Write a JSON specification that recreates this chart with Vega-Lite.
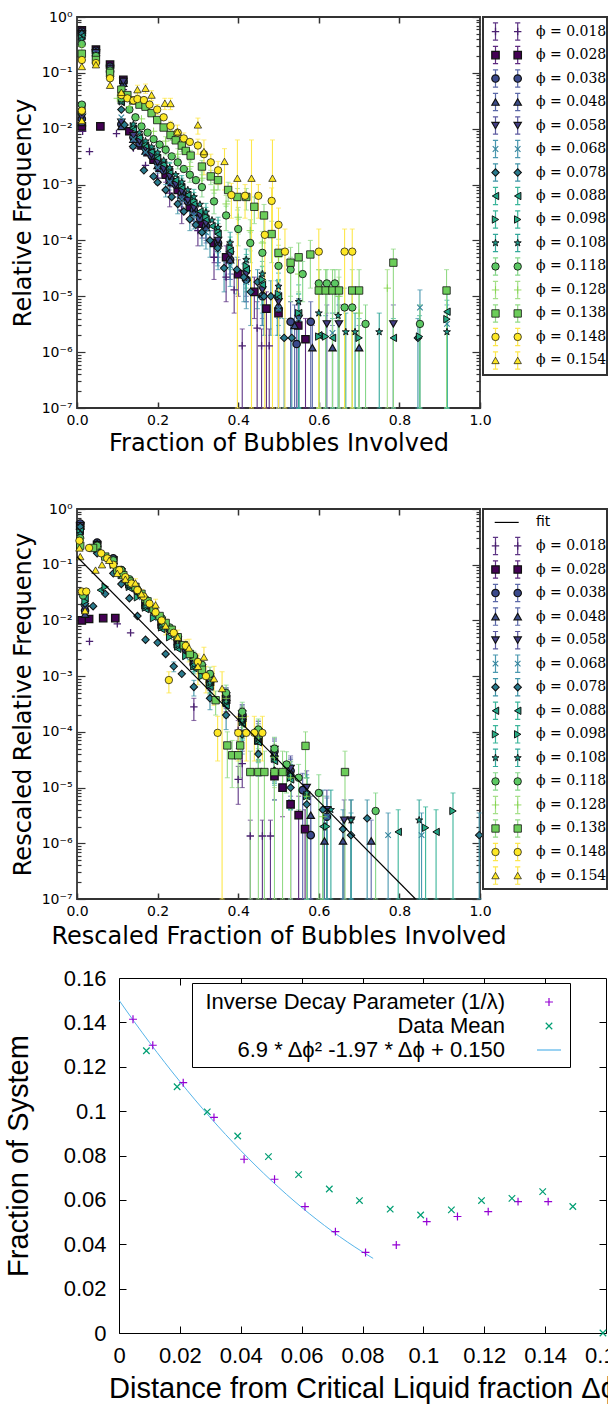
{
"$schema": "https://vega.github.io/schema/vega-lite/v6.json",
"background": "white",
"padding": {"left": 3, "top": 9, "right": 0, "bottom": 0},
"spacing": 17,
"resolve": {"scale": {"color": "independent", "shape": "independent", "fill": "independent", "stroke": "independent", "strokeWidth": "independent"}},
"config": {"view": {"stroke": null}, "axis": {"grid": false}, "font": "DejaVu Sans"},
"datasets": {
"leg1": [{"s":"0.018","lab":"ϕ = 0.018"},{"s":"0.028","lab":"ϕ = 0.028"},{"s":"0.038","lab":"ϕ = 0.038"},{"s":"0.048","lab":"ϕ = 0.048"},{"s":"0.058","lab":"ϕ = 0.058"},{"s":"0.068","lab":"ϕ = 0.068"},{"s":"0.078","lab":"ϕ = 0.078"},{"s":"0.088","lab":"ϕ = 0.088"},{"s":"0.098","lab":"ϕ = 0.098"},{"s":"0.108","lab":"ϕ = 0.108"},{"s":"0.118","lab":"ϕ = 0.118"},{"s":"0.128","lab":"ϕ = 0.128"},{"s":"0.138","lab":"ϕ = 0.138"},{"s":"0.148","lab":"ϕ = 0.148"},{"s":"0.154","lab":"ϕ = 0.154"}],
"leg2": [{"s":"fit","lab":"fit"},{"s":"0.018","lab":"ϕ = 0.018"},{"s":"0.028","lab":"ϕ = 0.028"},{"s":"0.038","lab":"ϕ = 0.038"},{"s":"0.048","lab":"ϕ = 0.048"},{"s":"0.058","lab":"ϕ = 0.058"},{"s":"0.068","lab":"ϕ = 0.068"},{"s":"0.078","lab":"ϕ = 0.078"},{"s":"0.088","lab":"ϕ = 0.088"},{"s":"0.098","lab":"ϕ = 0.098"},{"s":"0.108","lab":"ϕ = 0.108"},{"s":"0.118","lab":"ϕ = 0.118"},{"s":"0.128","lab":"ϕ = 0.128"},{"s":"0.138","lab":"ϕ = 0.138"},{"s":"0.148","lab":"ϕ = 0.148"},{"s":"0.154","lab":"ϕ = 0.154"}],
"fit2": [{"x":0,"y":0.139},{"x":0.84,"y":1e-7}],
"p3": [
{"k":"Inverse Decay Parameter (1/λ)","x":0.0046,"y":0.1414},{"k":"Inverse Decay Parameter (1/λ)","x":0.0111,"y":0.1297},{"k":"Inverse Decay Parameter (1/λ)","x":0.0211,"y":0.1128},{"k":"Inverse Decay Parameter (1/λ)","x":0.0312,"y":0.0972},{"k":"Inverse Decay Parameter (1/λ)","x":0.0411,"y":0.0783},{"k":"Inverse Decay Parameter (1/λ)","x":0.0511,"y":0.0693},{"k":"Inverse Decay Parameter (1/λ)","x":0.0611,"y":0.057},{"k":"Inverse Decay Parameter (1/λ)","x":0.0711,"y":0.0457},{"k":"Inverse Decay Parameter (1/λ)","x":0.081,"y":0.0363},{"k":"Inverse Decay Parameter (1/λ)","x":0.0911,"y":0.0397},{"k":"Inverse Decay Parameter (1/λ)","x":0.1011,"y":0.0502},{"k":"Inverse Decay Parameter (1/λ)","x":0.1112,"y":0.0525},{"k":"Inverse Decay Parameter (1/λ)","x":0.1213,"y":0.0547},{"k":"Inverse Decay Parameter (1/λ)","x":0.1311,"y":0.0592},{"k":"Inverse Decay Parameter (1/λ)","x":0.141,"y":0.0592},
{"k":"Data Mean","x":0.009,"y":0.1272},{"k":"Data Mean","x":0.0191,"y":0.111},{"k":"Data Mean","x":0.029,"y":0.0997},{"k":"Data Mean","x":0.039,"y":0.0888},{"k":"Data Mean","x":0.0491,"y":0.0795},{"k":"Data Mean","x":0.059,"y":0.0714},{"k":"Data Mean","x":0.0691,"y":0.0649},{"k":"Data Mean","x":0.079,"y":0.0597},{"k":"Data Mean","x":0.0891,"y":0.0558},{"k":"Data Mean","x":0.0991,"y":0.0532},{"k":"Data Mean","x":0.1092,"y":0.0555},{"k":"Data Mean","x":0.1191,"y":0.0597},{"k":"Data Mean","x":0.1291,"y":0.0607},{"k":"Data Mean","x":0.1392,"y":0.0637},{"k":"Data Mean","x":0.1491,"y":0.057},{"k":"Data Mean","x":0.159,"y":0}
],
"f3": [
{"k":"6.9 * Δϕ² -1.97 * Δϕ + 0.150","x":0,"y":0.15},{"k":"6.9 * Δϕ² -1.97 * Δϕ + 0.150","x":0.005,"y":0.14032},{"k":"6.9 * Δϕ² -1.97 * Δϕ + 0.150","x":0.01,"y":0.13099},{"k":"6.9 * Δϕ² -1.97 * Δϕ + 0.150","x":0.015,"y":0.122},{"k":"6.9 * Δϕ² -1.97 * Δϕ + 0.150","x":0.02,"y":0.11336},{"k":"6.9 * Δϕ² -1.97 * Δϕ + 0.150","x":0.025,"y":0.10506},{"k":"6.9 * Δϕ² -1.97 * Δϕ + 0.150","x":0.03,"y":0.09711},{"k":"6.9 * Δϕ² -1.97 * Δϕ + 0.150","x":0.035,"y":0.0895},{"k":"6.9 * Δϕ² -1.97 * Δϕ + 0.150","x":0.04,"y":0.08224},{"k":"6.9 * Δϕ² -1.97 * Δϕ + 0.150","x":0.045,"y":0.07532},{"k":"6.9 * Δϕ² -1.97 * Δϕ + 0.150","x":0.05,"y":0.06875},{"k":"6.9 * Δϕ² -1.97 * Δϕ + 0.150","x":0.055,"y":0.06252},{"k":"6.9 * Δϕ² -1.97 * Δϕ + 0.150","x":0.06,"y":0.05664},{"k":"6.9 * Δϕ² -1.97 * Δϕ + 0.150","x":0.065,"y":0.0511},{"k":"6.9 * Δϕ² -1.97 * Δϕ + 0.150","x":0.07,"y":0.04591},{"k":"6.9 * Δϕ² -1.97 * Δϕ + 0.150","x":0.075,"y":0.04106},{"k":"6.9 * Δϕ² -1.97 * Δϕ + 0.150","x":0.08,"y":0.03656},{"k":"6.9 * Δϕ² -1.97 * Δϕ + 0.150","x":0.0835,"y":0.03362}
],
"d1": [
{"s":"0.018","x":0.012,"y":0.42},{"s":"0.018","x":0.031,"y":0.0039},{"s":"0.018","x":0.014,"y":0.009},{"s":"0.018","x":0.047,"y":0.21},{"s":"0.018","x":0.082,"y":0.11},{"s":"0.018","x":0.098,"y":0.0082},{"s":"0.018","x":0.115,"y":0.05},{"s":"0.018","x":0.14,"y":0.0045},{"s":"0.018","x":0.17,"y":0.0022},{"s":"0.018","x":0.2,"y":0.0013,"lo":0.001,"hi":0.0017},{"s":"0.018","x":0.23,"y":7e-4,"lo":4e-4,"hi":1e-3},{"s":"0.018","x":0.26,"y":3.5e-4,"lo":2e-4,"hi":5e-4},{"s":"0.018","x":0.3,"y":1.5e-4,"lo":8e-5,"hi":2.2e-4},{"s":"0.018","x":0.34,"y":5e-5,"lo":2e-5,"hi":9e-5},{"s":"0.018","x":0.37,"y":2.2e-5,"lo":8e-6,"hi":4e-5},{"s":"0.018","x":0.39,"y":1.3e-5,"lo":5e-6,"hi":2.5e-5},{"s":"0.018","x":0.41,"y":1.3e-6,"lo":1e-8,"hi":2.6e-6},{"s":"0.018","x":0.447,"y":2.7e-6,"lo":1e-8,"hi":8e-6},{"s":"0.018","x":0.458,"y":1.3e-6,"lo":1e-8,"hi":2.6e-6},{"s":"0.018","x":0.477,"y":1.3e-6,"lo":1e-8,"hi":2.6e-6},
{"s":"0.028","x":0.012,"y":0.58},{"s":"0.028","x":0.012,"y":0.011},{"s":"0.028","x":0.058,"y":0.011},{"s":"0.028","x":0.047,"y":0.26},{"s":"0.028","x":0.082,"y":0.14},{"s":"0.028","x":0.115,"y":0.075},{"s":"0.028","x":0.13,"y":0.009},{"s":"0.028","x":0.16,"y":0.005},{"s":"0.028","x":0.175,"y":0.0038},{"s":"0.028","x":0.19,"y":0.0028},{"s":"0.028","x":0.205,"y":0.002},{"s":"0.028","x":0.22,"y":0.0015,"lo":0.0011,"hi":0.002},{"s":"0.028","x":0.235,"y":0.0011},{"s":"0.028","x":0.25,"y":8e-4,"lo":5e-4,"hi":1.1e-3},{"s":"0.028","x":0.265,"y":6e-4},{"s":"0.028","x":0.28,"y":4e-4,"lo":2.5e-4,"hi":5.5e-4},{"s":"0.028","x":0.31,"y":2e-4,"lo":1.1e-4,"hi":3e-4},{"s":"0.028","x":0.34,"y":9e-5,"lo":4e-5,"hi":1.5e-4},{"s":"0.028","x":0.37,"y":5e-5,"lo":2e-5,"hi":8e-5},{"s":"0.028","x":0.4,"y":2.5e-5,"lo":1e-5,"hi":4.5e-5},{"s":"0.028","x":0.44,"y":1.2e-5,"lo":4e-6,"hi":2.2e-5},{"s":"0.028","x":0.47,"y":6e-6,"lo":1e-8,"hi":1.2e-5},{"s":"0.028","x":0.5,"y":5e-6,"lo":1e-8,"hi":1e-5},{"s":"0.028","x":0.549,"y":3e-6,"lo":1e-8,"hi":7e-6},{"s":"0.028","x":0.567,"y":1.7e-6,"lo":1e-8,"hi":4e-6},
{"s":"0.038","x":0.012,"y":0.55},{"s":"0.038","x":0.012,"y":0.015},{"s":"0.038","x":0.047,"y":0.25},{"s":"0.038","x":0.082,"y":0.13},{"s":"0.038","x":0.11,"y":0.012},{"s":"0.038","x":0.115,"y":0.07},{"s":"0.038","x":0.14,"y":0.007},{"s":"0.038","x":0.155,"y":0.0055},{"s":"0.038","x":0.17,"y":0.0045},{"s":"0.038","x":0.185,"y":0.0033},{"s":"0.038","x":0.2,"y":0.0025,"lo":0.002,"hi":0.003},{"s":"0.038","x":0.215,"y":0.0018},{"s":"0.038","x":0.23,"y":0.0013,"lo":0.001,"hi":0.0017},{"s":"0.038","x":0.245,"y":0.001},{"s":"0.038","x":0.26,"y":7e-4,"lo":4.5e-4,"hi":9.5e-4},{"s":"0.038","x":0.275,"y":5e-4},{"s":"0.038","x":0.29,"y":3.5e-4,"lo":2e-4,"hi":5e-4},{"s":"0.038","x":0.305,"y":2.5e-4},{"s":"0.038","x":0.32,"y":1.8e-4,"lo":1e-4,"hi":2.7e-4},{"s":"0.038","x":0.35,"y":9e-5,"lo":4e-5,"hi":1.4e-4},{"s":"0.038","x":0.38,"y":4.5e-5,"lo":2e-5,"hi":7e-5},{"s":"0.038","x":0.42,"y":2e-5,"lo":8e-6,"hi":3.5e-5},{"s":"0.038","x":0.46,"y":1e-5,"lo":3e-6,"hi":1.8e-5},{"s":"0.038","x":0.5,"y":6e-6,"lo":1e-8,"hi":1.2e-5},{"s":"0.038","x":0.53,"y":3.5e-6,"lo":1e-8,"hi":8e-6},{"s":"0.038","x":0.545,"y":1.4e-6,"lo":1e-8,"hi":3e-6},{"s":"0.038","x":0.58,"y":3.5e-6,"lo":1e-8,"hi":8e-6},
{"s":"0.048","x":0.012,"y":0.53},{"s":"0.048","x":0.012,"y":0.013},{"s":"0.048","x":0.047,"y":0.24},{"s":"0.048","x":0.082,"y":0.12},{"s":"0.048","x":0.11,"y":0.011},{"s":"0.048","x":0.115,"y":0.065},{"s":"0.048","x":0.14,"y":0.0065},{"s":"0.048","x":0.17,"y":0.004},{"s":"0.048","x":0.2,"y":0.0022,"lo":0.0018,"hi":0.0027},{"s":"0.048","x":0.23,"y":0.0012,"lo":9e-4,"hi":1.6e-3},{"s":"0.048","x":0.26,"y":6.5e-4,"lo":4e-4,"hi":9e-4},{"s":"0.048","x":0.29,"y":3.2e-4,"lo":1.8e-4,"hi":4.6e-4},{"s":"0.048","x":0.32,"y":1.7e-4,"lo":9e-5,"hi":2.5e-4},{"s":"0.048","x":0.35,"y":9e-5,"lo":4e-5,"hi":1.4e-4},{"s":"0.048","x":0.38,"y":4.5e-5,"lo":2e-5,"hi":7e-5},{"s":"0.048","x":0.42,"y":2.2e-5,"lo":8e-6,"hi":3.8e-5},{"s":"0.048","x":0.46,"y":1.1e-5,"lo":3e-6,"hi":2e-5},{"s":"0.048","x":0.5,"y":7e-6,"lo":1e-8,"hi":1.4e-5},{"s":"0.048","x":0.54,"y":3e-6,"lo":1e-8,"hi":7e-6},{"s":"0.048","x":0.584,"y":1.2e-6,"lo":1e-8,"hi":3e-6},{"s":"0.048","x":0.634,"y":1.2e-6,"lo":1e-8,"hi":3e-6},{"s":"0.048","x":0.7,"y":1.2e-6,"lo":1e-8,"hi":3e-6},
{"s":"0.058","x":0.012,"y":0.5},{"s":"0.058","x":0.012,"y":0.016},{"s":"0.058","x":0.047,"y":0.23},{"s":"0.058","x":0.082,"y":0.12},{"s":"0.058","x":0.11,"y":0.013},{"s":"0.058","x":0.115,"y":0.07},{"s":"0.058","x":0.14,"y":0.0075},{"s":"0.058","x":0.155,"y":0.006},{"s":"0.058","x":0.17,"y":0.0045},{"s":"0.058","x":0.185,"y":0.0034},{"s":"0.058","x":0.2,"y":0.0025,"lo":0.002,"hi":0.003},{"s":"0.058","x":0.215,"y":0.0019},{"s":"0.058","x":0.23,"y":0.0014,"lo":0.00105,"hi":0.0018},{"s":"0.058","x":0.245,"y":0.001},{"s":"0.058","x":0.26,"y":7.5e-4,"lo":5e-4,"hi":1e-3},{"s":"0.058","x":0.275,"y":5.2e-4},{"s":"0.058","x":0.29,"y":3.8e-4,"lo":2.2e-4,"hi":5.4e-4},{"s":"0.058","x":0.305,"y":2.8e-4},{"s":"0.058","x":0.32,"y":2e-4,"lo":1.1e-4,"hi":2.9e-4},{"s":"0.058","x":0.35,"y":1e-4,"lo":5e-5,"hi":1.5e-4},{"s":"0.058","x":0.38,"y":5.5e-5,"lo":2.5e-5,"hi":8.5e-5},{"s":"0.058","x":0.42,"y":2.5e-5,"lo":1e-5,"hi":4.2e-5},{"s":"0.058","x":0.46,"y":1.3e-5,"lo":4e-6,"hi":2.4e-5},{"s":"0.058","x":0.5,"y":8e-6,"lo":1e-8,"hi":1.6e-5},{"s":"0.058","x":0.55,"y":4e-6,"lo":1e-8,"hi":9e-6},{"s":"0.058","x":0.62,"y":3.2e-6,"lo":1e-8,"hi":7e-6},{"s":"0.058","x":0.65,"y":3.2e-6,"lo":1e-8,"hi":7e-6},{"s":"0.058","x":0.785,"y":3.2e-6,"lo":1e-8,"hi":7e-6},
{"s":"0.068","x":0.012,"y":0.48},{"s":"0.068","x":0.012,"y":0.02},{"s":"0.068","x":0.047,"y":0.22},{"s":"0.068","x":0.082,"y":0.11},{"s":"0.068","x":0.11,"y":0.016},{"s":"0.068","x":0.14,"y":0.0065},{"s":"0.068","x":0.17,"y":0.0038},{"s":"0.068","x":0.2,"y":0.002,"lo":0.0016,"hi":0.0025},{"s":"0.068","x":0.23,"y":0.0011,"lo":8e-4,"hi":1.4e-3},{"s":"0.068","x":0.26,"y":5.5e-4,"lo":3.5e-4,"hi":7.5e-4},{"s":"0.068","x":0.29,"y":2.8e-4,"lo":1.6e-4,"hi":4e-4},{"s":"0.068","x":0.32,"y":1.4e-4,"lo":7e-5,"hi":2.1e-4},{"s":"0.068","x":0.35,"y":7e-5,"lo":3e-5,"hi":1.1e-4},{"s":"0.068","x":0.38,"y":3.5e-5,"lo":1.5e-5,"hi":5.5e-5},{"s":"0.068","x":0.42,"y":1.8e-5,"lo":6e-6,"hi":3e-5},{"s":"0.068","x":0.46,"y":1e-5,"lo":3e-6,"hi":1.8e-5},{"s":"0.068","x":0.5,"y":6e-6,"lo":1e-8,"hi":1.2e-5},{"s":"0.068","x":0.55,"y":4e-6,"lo":1e-8,"hi":9e-6},{"s":"0.068","x":0.634,"y":2.2e-6,"lo":1e-8,"hi":5e-6},{"s":"0.068","x":0.851,"y":6.3e-6,"lo":1e-8,"hi":1.3e-5},{"s":"0.068","x":0.918,"y":3.2e-6,"lo":1e-8,"hi":7e-6},
{"s":"0.078","x":0.012,"y":0.5},{"s":"0.078","x":0.012,"y":0.02},{"s":"0.078","x":0.047,"y":0.2},{"s":"0.078","x":0.082,"y":0.085},{"s":"0.078","x":0.11,"y":0.022},{"s":"0.078","x":0.118,"y":0.0117},{"s":"0.078","x":0.139,"y":0.0048},{"s":"0.078","x":0.166,"y":0.0018},{"s":"0.078","x":0.19,"y":0.0014},{"s":"0.078","x":0.2,"y":0.0011},{"s":"0.078","x":0.22,"y":8e-4,"lo":6e-4,"hi":1e-3},{"s":"0.078","x":0.235,"y":6e-4},{"s":"0.078","x":0.25,"y":4.5e-4,"lo":3e-4,"hi":6e-4},{"s":"0.078","x":0.265,"y":3.3e-4},{"s":"0.078","x":0.28,"y":2.4e-4,"lo":1.5e-4,"hi":3.3e-4},{"s":"0.078","x":0.295,"y":1.9e-4},{"s":"0.078","x":0.31,"y":1.4e-4,"lo":8e-5,"hi":2e-4},{"s":"0.078","x":0.33,"y":1e-4,"lo":5e-5,"hi":1.5e-4},{"s":"0.078","x":0.349,"y":7.3e-5,"lo":3.5e-5,"hi":1.1e-4},{"s":"0.078","x":0.365,"y":3.2e-5,"lo":1.2e-5,"hi":5e-5},{"s":"0.078","x":0.397,"y":3e-5,"lo":1.1e-5,"hi":5e-5},{"s":"0.078","x":0.414,"y":2.2e-5,"lo":8e-6,"hi":3.8e-5},{"s":"0.078","x":0.431,"y":1.2e-5,"lo":3e-6,"hi":2.2e-5},{"s":"0.078","x":0.448,"y":1.8e-5,"lo":6e-6,"hi":3e-5},{"s":"0.078","x":0.464,"y":1e-5,"lo":2e-6,"hi":1.9e-5},{"s":"0.078","x":0.481,"y":1e-5,"lo":2e-6,"hi":1.9e-5},{"s":"0.078","x":0.497,"y":1e-5,"lo":2e-6,"hi":1.9e-5},{"s":"0.078","x":0.514,"y":1.8e-6,"lo":1e-8,"hi":4e-6},{"s":"0.078","x":0.533,"y":1.8e-6,"lo":1e-8,"hi":4e-6},{"s":"0.078","x":0.846,"y":1.8e-6,"lo":1e-8,"hi":4e-6},
{"s":"0.088","x":0.012,"y":0.45},{"s":"0.088","x":0.012,"y":0.025},{"s":"0.088","x":0.047,"y":0.2},{"s":"0.088","x":0.082,"y":0.1},{"s":"0.088","x":0.11,"y":0.03},{"s":"0.088","x":0.14,"y":0.01},{"s":"0.088","x":0.155,"y":0.007},{"s":"0.088","x":0.17,"y":0.005},{"s":"0.088","x":0.185,"y":0.0039},{"s":"0.088","x":0.2,"y":0.003,"lo":0.0024,"hi":0.0036},{"s":"0.088","x":0.215,"y":0.0023},{"s":"0.088","x":0.23,"y":0.0017,"lo":0.0013,"hi":0.0021},{"s":"0.088","x":0.245,"y":0.0012},{"s":"0.088","x":0.26,"y":9e-4,"lo":6e-4,"hi":1.2e-3},{"s":"0.088","x":0.275,"y":6.5e-4},{"s":"0.088","x":0.29,"y":4.6e-4,"lo":2.8e-4,"hi":6.4e-4},{"s":"0.088","x":0.305,"y":3.3e-4},{"s":"0.088","x":0.32,"y":2.4e-4,"lo":1.3e-4,"hi":3.5e-4},{"s":"0.088","x":0.335,"y":1.8e-4},{"s":"0.088","x":0.35,"y":1.3e-4,"lo":6e-5,"hi":2e-4},{"s":"0.088","x":0.38,"y":6.5e-5,"lo":3e-5,"hi":1e-4},{"s":"0.088","x":0.42,"y":3e-5,"lo":1.2e-5,"hi":5e-5},{"s":"0.088","x":0.46,"y":1.6e-5,"lo":5e-6,"hi":2.8e-5},{"s":"0.088","x":0.5,"y":1e-5,"lo":2e-6,"hi":1.9e-5},{"s":"0.088","x":0.55,"y":5e-6,"lo":1e-8,"hi":1.1e-5},{"s":"0.088","x":0.6,"y":2e-6,"lo":1e-8,"hi":4.5e-6},{"s":"0.088","x":0.634,"y":1.8e-6,"lo":1e-8,"hi":4e-6},{"s":"0.088","x":0.785,"y":1.8e-6,"lo":1e-8,"hi":4e-6},{"s":"0.088","x":0.918,"y":5.3e-6,"lo":1e-8,"hi":1.1e-5},
{"s":"0.098","x":0.012,"y":0.42},{"s":"0.098","x":0.012,"y":0.02},{"s":"0.098","x":0.047,"y":0.2},{"s":"0.098","x":0.082,"y":0.1},{"s":"0.098","x":0.11,"y":0.032},{"s":"0.098","x":0.14,"y":0.011},{"s":"0.098","x":0.17,"y":0.0055},{"s":"0.098","x":0.2,"y":0.0034,"lo":0.0027,"hi":0.0041},{"s":"0.098","x":0.23,"y":0.0019,"lo":0.0014,"hi":0.0024},{"s":"0.098","x":0.26,"y":0.001,"lo":7e-4,"hi":1.3e-3},{"s":"0.098","x":0.29,"y":5.2e-4,"lo":3.2e-4,"hi":7.2e-4},{"s":"0.098","x":0.32,"y":2.7e-4,"lo":1.5e-4,"hi":3.9e-4},{"s":"0.098","x":0.35,"y":1.5e-4,"lo":7e-5,"hi":2.3e-4},{"s":"0.098","x":0.38,"y":7.5e-5,"lo":3.5e-5,"hi":1.15e-4},{"s":"0.098","x":0.42,"y":3.5e-5,"lo":1.4e-5,"hi":5.6e-5},{"s":"0.098","x":0.46,"y":2e-5,"lo":7e-6,"hi":3.4e-5},{"s":"0.098","x":0.5,"y":1.1e-5,"lo":3e-6,"hi":2e-5},{"s":"0.098","x":0.55,"y":5e-6,"lo":1e-8,"hi":1.1e-5},{"s":"0.098","x":0.6,"y":1.9e-6,"lo":1e-8,"hi":4.5e-6},{"s":"0.098","x":0.617,"y":1.9e-6,"lo":1e-8,"hi":4.5e-6},{"s":"0.098","x":0.7,"y":1.8e-6,"lo":1e-8,"hi":4e-6},{"s":"0.098","x":0.85,"y":1.9e-6,"lo":1e-8,"hi":4.5e-6},{"s":"0.098","x":0.918,"y":3.9e-6,"lo":1e-8,"hi":8.5e-6},
{"s":"0.108","x":0.012,"y":0.4},{"s":"0.108","x":0.047,"y":0.19},{"s":"0.108","x":0.082,"y":0.1},{"s":"0.108","x":0.11,"y":0.03},{"s":"0.108","x":0.14,"y":0.012},{"s":"0.108","x":0.155,"y":0.0085},{"s":"0.108","x":0.17,"y":0.006},{"s":"0.108","x":0.185,"y":0.0047},{"s":"0.108","x":0.2,"y":0.0037,"lo":0.003,"hi":0.0045},{"s":"0.108","x":0.215,"y":0.0027},{"s":"0.108","x":0.23,"y":0.002,"lo":0.0015,"hi":0.0025},{"s":"0.108","x":0.245,"y":0.0015},{"s":"0.108","x":0.26,"y":0.0011,"lo":7.5e-4,"hi":1.45e-3},{"s":"0.108","x":0.275,"y":8e-4},{"s":"0.108","x":0.29,"y":6e-4,"lo":3.8e-4,"hi":8.2e-4},{"s":"0.108","x":0.305,"y":4.4e-4},{"s":"0.108","x":0.32,"y":3.2e-4,"lo":1.8e-4,"hi":4.6e-4},{"s":"0.108","x":0.335,"y":2.3e-4},{"s":"0.108","x":0.35,"y":1.7e-4,"lo":8.5e-5,"hi":2.6e-4},{"s":"0.108","x":0.38,"y":9e-5,"lo":4e-5,"hi":1.4e-4},{"s":"0.108","x":0.42,"y":4.5e-5,"lo":1.8e-5,"hi":7e-5},{"s":"0.108","x":0.46,"y":2.5e-5,"lo":9e-6,"hi":4.2e-5},{"s":"0.108","x":0.5,"y":1.5e-5,"lo":4e-6,"hi":2.6e-5},{"s":"0.108","x":0.55,"y":8e-6,"lo":1e-8,"hi":1.6e-5},{"s":"0.108","x":0.6,"y":5e-6,"lo":1e-8,"hi":1.1e-5},{"s":"0.108","x":0.648,"y":4.5e-6,"lo":1e-8,"hi":1e-5},{"s":"0.108","x":0.667,"y":2.3e-6,"lo":1e-8,"hi":5e-6},{"s":"0.108","x":0.69,"y":2.3e-6,"lo":1e-8,"hi":5e-6},{"s":"0.108","x":0.75,"y":2.3e-6,"lo":1e-8,"hi":5e-6},{"s":"0.108","x":0.918,"y":2.3e-6,"lo":1e-8,"hi":5e-6},
{"s":"0.118","x":0.012,"y":0.33},{"s":"0.118","x":0.012,"y":0.027},{"s":"0.118","x":0.047,"y":0.2},{"s":"0.118","x":0.082,"y":0.11},{"s":"0.118","x":0.11,"y":0.035},{"s":"0.118","x":0.13,"y":0.022},{"s":"0.118","x":0.145,"y":0.016},{"s":"0.118","x":0.16,"y":0.011},{"s":"0.118","x":0.175,"y":0.0085},{"s":"0.118","x":0.19,"y":0.0065},{"s":"0.118","x":0.205,"y":0.0052},{"s":"0.118","x":0.22,"y":0.0042,"lo":0.0034,"hi":0.005},{"s":"0.118","x":0.235,"y":0.0032},{"s":"0.118","x":0.25,"y":0.0025,"lo":0.0019,"hi":0.0031},{"s":"0.118","x":0.265,"y":0.0019},{"s":"0.118","x":0.28,"y":0.0015,"lo":0.0011,"hi":0.0019},{"s":"0.118","x":0.295,"y":0.0012},{"s":"0.118","x":0.31,"y":9e-4,"lo":6e-4,"hi":1.2e-3},{"s":"0.118","x":0.34,"y":5e-4,"lo":3e-4,"hi":7e-4},{"s":"0.118","x":0.37,"y":2.8e-4,"lo":1.5e-4,"hi":4.1e-4},{"s":"0.118","x":0.4,"y":1.6e-4,"lo":8e-5,"hi":2.4e-4},{"s":"0.118","x":0.43,"y":9e-5,"lo":4e-5,"hi":1.4e-4},{"s":"0.118","x":0.46,"y":6e-5,"lo":2.5e-5,"hi":9.5e-5},{"s":"0.118","x":0.5,"y":3.5e-5,"lo":1.3e-5,"hi":5.7e-5},{"s":"0.118","x":0.53,"y":3e-5,"lo":1e-5,"hi":5e-5},{"s":"0.118","x":0.56,"y":2.5e-5,"lo":8e-6,"hi":4.2e-5},{"s":"0.118","x":0.6,"y":1.7e-5,"lo":5e-6,"hi":3e-5},{"s":"0.118","x":0.62,"y":1.7e-5,"lo":5e-6,"hi":3e-5},{"s":"0.118","x":0.64,"y":1.7e-5,"lo":5e-6,"hi":3e-5},{"s":"0.118","x":0.664,"y":6.3e-6,"lo":1e-8,"hi":1.4e-5},{"s":"0.118","x":0.683,"y":6.3e-6,"lo":1e-8,"hi":1.4e-5},{"s":"0.118","x":0.716,"y":3.2e-6,"lo":1e-8,"hi":7e-6},{"s":"0.118","x":0.851,"y":3.2e-6,"lo":1e-8,"hi":7e-6},
{"s":"0.128","x":0.012,"y":0.3},{"s":"0.128","x":0.047,"y":0.18},{"s":"0.128","x":0.082,"y":0.09},{"s":"0.128","x":0.1,"y":0.035},{"s":"0.128","x":0.13,"y":0.025},{"s":"0.128","x":0.16,"y":0.015},{"s":"0.128","x":0.19,"y":0.009},{"s":"0.128","x":0.22,"y":0.006,"lo":0.0048,"hi":0.0072},{"s":"0.128","x":0.25,"y":0.0035,"lo":0.0026,"hi":0.0044},{"s":"0.128","x":0.28,"y":0.0021,"lo":0.0015,"hi":0.0027},{"s":"0.128","x":0.31,"y":0.0013,"lo":9e-4,"hi":1.7e-3},{"s":"0.128","x":0.34,"y":8e-4,"lo":5e-4,"hi":1.1e-3},{"s":"0.128","x":0.37,"y":4.5e-4,"lo":2.6e-4,"hi":6.4e-4},{"s":"0.128","x":0.4,"y":2.6e-4,"lo":1.3e-4,"hi":3.9e-4},{"s":"0.128","x":0.43,"y":1.5e-4,"lo":6.5e-5,"hi":2.35e-4},{"s":"0.128","x":0.46,"y":9e-5,"lo":3.5e-5,"hi":1.45e-4},{"s":"0.128","x":0.5,"y":5e-5,"lo":1.8e-5,"hi":8.2e-5},{"s":"0.128","x":0.55,"y":2.5e-5,"lo":8e-6,"hi":4.2e-5},{"s":"0.128","x":0.6,"y":1.5e-5,"lo":1e-8,"hi":3e-5},{"s":"0.128","x":0.65,"y":1e-5,"lo":1e-8,"hi":2.2e-5},{"s":"0.128","x":0.7,"y":5e-6,"lo":1e-8,"hi":1.1e-5},{"s":"0.128","x":0.77,"y":1.4e-5,"lo":1e-8,"hi":3e-5},
{"s":"0.138","x":0.012,"y":0.22},{"s":"0.138","x":0.047,"y":0.17},{"s":"0.138","x":0.082,"y":0.1},{"s":"0.138","x":0.11,"y":0.05},{"s":"0.138","x":0.125,"y":0.04},{"s":"0.138","x":0.14,"y":0.032},{"s":"0.138","x":0.155,"y":0.027},{"s":"0.138","x":0.17,"y":0.0248},{"s":"0.138","x":0.185,"y":0.019},{"s":"0.138","x":0.199,"y":0.0143},{"s":"0.138","x":0.215,"y":0.0105},{"s":"0.138","x":0.232,"y":0.0077,"lo":0.0062,"hi":0.0092},{"s":"0.138","x":0.245,"y":0.0062},{"s":"0.138","x":0.26,"y":0.005,"lo":0.0039,"hi":0.0061},{"s":"0.138","x":0.27,"y":0.004},{"s":"0.138","x":0.282,"y":0.0033,"lo":0.0025,"hi":0.0041},{"s":"0.138","x":0.31,"y":0.0021,"lo":0.0015,"hi":0.0027},{"s":"0.138","x":0.332,"y":0.0014,"lo":0.001,"hi":0.0018},{"s":"0.138","x":0.35,"y":0.0012,"lo":8e-4,"hi":1.6e-3},{"s":"0.138","x":0.375,"y":8e-4,"lo":5e-4,"hi":1.1e-3},{"s":"0.138","x":0.398,"y":6e-4,"lo":3.5e-4,"hi":8.5e-4},{"s":"0.138","x":0.42,"y":6e-4,"lo":3.5e-4,"hi":8.5e-4},{"s":"0.138","x":0.44,"y":4e-4,"lo":2e-4,"hi":6e-4},{"s":"0.138","x":0.464,"y":2.8e-4,"lo":1.2e-4,"hi":4.4e-4},{"s":"0.138","x":0.483,"y":1.3e-4,"lo":4e-5,"hi":2.2e-4},{"s":"0.138","x":0.5,"y":6e-5,"lo":1.5e-5,"hi":1.05e-4},{"s":"0.138","x":0.53,"y":4e-5,"lo":8e-6,"hi":7.5e-5},{"s":"0.138","x":0.55,"y":5e-5,"lo":1.2e-5,"hi":9e-5},{"s":"0.138","x":0.579,"y":5.6e-5,"lo":1.4e-5,"hi":1e-4},{"s":"0.138","x":0.6,"y":1.27e-5,"lo":1e-8,"hi":3e-5},{"s":"0.138","x":0.617,"y":1.27e-5,"lo":1e-8,"hi":3e-5},{"s":"0.138","x":0.634,"y":1.27e-5,"lo":1e-8,"hi":3e-5},{"s":"0.138","x":0.65,"y":1.27e-5,"lo":1e-8,"hi":3e-5},{"s":"0.138","x":0.683,"y":1.27e-5,"lo":1e-8,"hi":3e-5},{"s":"0.138","x":0.7,"y":1.27e-5,"lo":1e-8,"hi":3e-5},{"s":"0.138","x":0.785,"y":4e-5,"lo":1e-8,"hi":7e-5},{"s":"0.138","x":0.917,"y":1.27e-5,"lo":1e-8,"hi":3e-5},
{"s":"0.148","x":0.012,"y":0.17},{"s":"0.148","x":0.012,"y":0.021},{"s":"0.148","x":0.047,"y":0.15},{"s":"0.148","x":0.082,"y":0.08},{"s":"0.148","x":0.11,"y":0.04},{"s":"0.148","x":0.125,"y":0.035},{"s":"0.148","x":0.14,"y":0.032},{"s":"0.148","x":0.15,"y":0.034},{"s":"0.148","x":0.166,"y":0.0326},{"s":"0.148","x":0.18,"y":0.027},{"s":"0.148","x":0.199,"y":0.022,"lo":0.018,"hi":0.027},{"s":"0.148","x":0.215,"y":0.016},{"s":"0.148","x":0.232,"y":0.0112,"lo":0.0088,"hi":0.0136},{"s":"0.148","x":0.25,"y":0.0085},{"s":"0.148","x":0.265,"y":0.0067,"lo":0.005,"hi":0.0084},{"s":"0.148","x":0.28,"y":0.0058},{"s":"0.148","x":0.3,"y":0.005,"lo":0.0035,"hi":0.0065},{"s":"0.148","x":0.315,"y":0.0035},{"s":"0.148","x":0.332,"y":0.0025,"lo":0.0015,"hi":0.0035},{"s":"0.148","x":0.35,"y":0.0018,"lo":0.001,"hi":0.0026},{"s":"0.148","x":0.383,"y":6.5e-4,"lo":2.5e-4,"hi":1.05e-3},{"s":"0.148","x":0.417,"y":6.3e-4,"lo":2.5e-4,"hi":1e-3},{"s":"0.148","x":0.45,"y":6.3e-4,"lo":2.5e-4,"hi":1e-3},{"s":"0.148","x":0.466,"y":1.26e-4,"lo":1e-8,"hi":2.6e-4},{"s":"0.148","x":0.483,"y":5.1e-4,"lo":1.5e-4,"hi":8.7e-4},{"s":"0.148","x":0.5,"y":1.9e-4,"lo":1e-8,"hi":3.8e-4},{"s":"0.148","x":0.516,"y":6.3e-5,"lo":1e-8,"hi":1.6e-4},{"s":"0.148","x":0.6,"y":6.3e-5,"lo":1e-8,"hi":1.6e-4},{"s":"0.148","x":0.664,"y":6.3e-5,"lo":1e-8,"hi":1.6e-4},{"s":"0.148","x":0.683,"y":6.3e-5,"lo":1e-8,"hi":1.6e-4},
{"s":"0.154","x":0.012,"y":0.13},{"s":"0.154","x":0.012,"y":0.014},{"s":"0.154","x":0.047,"y":0.14},{"s":"0.154","x":0.082,"y":0.06},{"s":"0.154","x":0.11,"y":0.045},{"s":"0.154","x":0.15,"y":0.05,"lo":0.04,"hi":0.06},{"s":"0.154","x":0.17,"y":0.053,"lo":0.043,"hi":0.063},{"s":"0.154","x":0.185,"y":0.04,"lo":0.032,"hi":0.048},{"s":"0.154","x":0.218,"y":0.0286,"lo":0.022,"hi":0.035},{"s":"0.154","x":0.232,"y":0.0283,"lo":0.022,"hi":0.035},{"s":"0.154","x":0.249,"y":0.0088,"lo":0.006,"hi":0.0116},{"s":"0.154","x":0.3,"y":0.0117,"lo":0.008,"hi":0.0155},{"s":"0.154","x":0.315,"y":0.0039,"lo":0.0015,"hi":0.0063},{"s":"0.154","x":0.366,"y":0.0026,"lo":0.0008,"hi":0.0044},{"s":"0.154","x":0.398,"y":0.0013,"lo":1e-8,"hi":0.0063},{"s":"0.154","x":0.433,"y":0.0013,"lo":1e-8,"hi":0.0063},{"s":"0.154","x":0.485,"y":0.0013,"lo":1e-8,"hi":0.0063}
],
"d2": [
{"s":"0.018","x":0.008,"y":0.42},{"s":"0.018","x":0.031,"y":0.0042},{"s":"0.018","x":0.1,"y":0.0087},{"s":"0.018","x":0.133,"y":0.006},{"s":"0.018","x":0.05,"y":0.2},{"s":"0.018","x":0.09,"y":0.11},{"s":"0.018","x":0.13,"y":0.045},{"s":"0.018","x":0.17,"y":0.02},{"s":"0.018","x":0.21,"y":0.0075},{"s":"0.018","x":0.25,"y":0.0035},{"s":"0.018","x":0.29,"y":2.8e-4,"lo":1.6e-4,"hi":4e-4},{"s":"0.018","x":0.33,"y":6e-4,"lo":4e-4,"hi":8e-4},{"s":"0.018","x":0.37,"y":3e-4,"lo":1.8e-4,"hi":4.2e-4},{"s":"0.018","x":0.4,"y":1.07e-4,"lo":5e-5,"hi":1.6e-4},{"s":"0.018","x":0.41,"y":2.7e-5,"lo":1e-5,"hi":4.5e-5},{"s":"0.018","x":0.4,"y":1.4e-5,"lo":5e-6,"hi":2.4e-5},{"s":"0.018","x":0.43,"y":1.35e-6,"lo":1e-8,"hi":2.6e-6},{"s":"0.018","x":0.46,"y":1.35e-6,"lo":1e-8,"hi":2.6e-6},{"s":"0.018","x":0.48,"y":1.35e-6,"lo":1e-8,"hi":2.6e-6},
{"s":"0.028","x":0.008,"y":0.5},{"s":"0.028","x":0.012,"y":0.01},{"s":"0.028","x":0.03,"y":0.0106},{"s":"0.028","x":0.065,"y":0.011},{"s":"0.028","x":0.095,"y":0.011},{"s":"0.028","x":0.05,"y":0.22},{"s":"0.028","x":0.09,"y":0.12},{"s":"0.028","x":0.13,"y":0.045},{"s":"0.028","x":0.17,"y":0.019},{"s":"0.028","x":0.21,"y":0.0085},{"s":"0.028","x":0.25,"y":0.0038},{"s":"0.028","x":0.29,"y":0.0018,"lo":0.0014,"hi":0.0022},{"s":"0.028","x":0.33,"y":8e-4,"lo":5.5e-4,"hi":1.05e-3},{"s":"0.028","x":0.37,"y":3.8e-4,"lo":2.3e-4,"hi":5.3e-4},{"s":"0.028","x":0.41,"y":1.8e-4,"lo":9e-5,"hi":2.7e-4},{"s":"0.028","x":0.45,"y":7e-5,"lo":3e-5,"hi":1.1e-4},{"s":"0.028","x":0.49,"y":1.6e-5,"lo":6e-6,"hi":2.8e-5},{"s":"0.028","x":0.51,"y":1e-5,"lo":3e-6,"hi":1.8e-5},{"s":"0.028","x":0.53,"y":5e-6,"lo":1e-8,"hi":1e-5},{"s":"0.028","x":0.55,"y":3.2e-6,"lo":1e-8,"hi":7e-6},{"s":"0.028","x":0.566,"y":1.8e-6,"lo":1e-8,"hi":4e-6},
{"s":"0.038","x":0.008,"y":0.55},{"s":"0.038","x":0.02,"y":0.015},{"s":"0.038","x":0.05,"y":0.25},{"s":"0.038","x":0.09,"y":0.13},{"s":"0.038","x":0.11,"y":0.08},{"s":"0.038","x":0.13,"y":0.05},{"s":"0.038","x":0.15,"y":0.033},{"s":"0.038","x":0.17,"y":0.022},{"s":"0.038","x":0.19,"y":0.015},{"s":"0.038","x":0.21,"y":0.01},{"s":"0.038","x":0.23,"y":0.0068},{"s":"0.038","x":0.25,"y":0.0045},{"s":"0.038","x":0.27,"y":0.003},{"s":"0.038","x":0.29,"y":0.002,"lo":0.0016,"hi":0.0024},{"s":"0.038","x":0.33,"y":9.5e-4,"lo":6.5e-4,"hi":1.25e-3},{"s":"0.038","x":0.37,"y":4.5e-4,"lo":2.8e-4,"hi":6.2e-4},{"s":"0.038","x":0.41,"y":2e-4,"lo":1e-4,"hi":3e-4},{"s":"0.038","x":0.45,"y":1e-4,"lo":4.5e-5,"hi":1.55e-4},{"s":"0.038","x":0.49,"y":4.5e-5,"lo":1.8e-5,"hi":7.2e-5},{"s":"0.038","x":0.53,"y":2e-5,"lo":6e-6,"hi":3.4e-5},{"s":"0.038","x":0.56,"y":9e-6,"lo":1e-8,"hi":1.8e-5},{"s":"0.038","x":0.58,"y":1.4e-6,"lo":1e-8,"hi":3e-6},{"s":"0.038","x":0.62,"y":3e-6,"lo":1e-8,"hi":6.5e-6},
{"s":"0.048","x":0.008,"y":0.5},{"s":"0.048","x":0.02,"y":0.013},{"s":"0.048","x":0.05,"y":0.24},{"s":"0.048","x":0.09,"y":0.12},{"s":"0.048","x":0.13,"y":0.05},{"s":"0.048","x":0.17,"y":0.021},{"s":"0.048","x":0.21,"y":0.0095},{"s":"0.048","x":0.25,"y":0.0042},{"s":"0.048","x":0.29,"y":0.0019,"lo":0.0015,"hi":0.0023},{"s":"0.048","x":0.33,"y":9e-4,"lo":6e-4,"hi":1.2e-3},{"s":"0.048","x":0.37,"y":4.2e-4,"lo":2.6e-4,"hi":5.8e-4},{"s":"0.048","x":0.41,"y":1.9e-4,"lo":1e-4,"hi":2.8e-4},{"s":"0.048","x":0.45,"y":9e-5,"lo":4e-5,"hi":1.4e-4},{"s":"0.048","x":0.49,"y":4.2e-5,"lo":1.6e-5,"hi":6.8e-5},{"s":"0.048","x":0.53,"y":1.9e-5,"lo":6e-6,"hi":3.2e-5},{"s":"0.048","x":0.58,"y":3.2e-6,"lo":1e-8,"hi":7e-6},{"s":"0.048","x":0.614,"y":1.1e-6,"lo":1e-8,"hi":2.6e-6},{"s":"0.048","x":0.66,"y":1.1e-6,"lo":1e-8,"hi":2.6e-6},{"s":"0.048","x":0.73,"y":1.1e-6,"lo":1e-8,"hi":2.6e-6},
{"s":"0.058","x":0.008,"y":0.5},{"s":"0.058","x":0.02,"y":0.016},{"s":"0.058","x":0.05,"y":0.23},{"s":"0.058","x":0.09,"y":0.12},{"s":"0.058","x":0.11,"y":0.075},{"s":"0.058","x":0.13,"y":0.048},{"s":"0.058","x":0.15,"y":0.032},{"s":"0.058","x":0.17,"y":0.022},{"s":"0.058","x":0.19,"y":0.015},{"s":"0.058","x":0.21,"y":0.01},{"s":"0.058","x":0.23,"y":0.0067},{"s":"0.058","x":0.25,"y":0.0044},{"s":"0.058","x":0.27,"y":0.003},{"s":"0.058","x":0.29,"y":0.002,"lo":0.0016,"hi":0.0024},{"s":"0.058","x":0.31,"y":0.0014},{"s":"0.058","x":0.33,"y":9.5e-4,"lo":6.5e-4,"hi":1.25e-3},{"s":"0.058","x":0.37,"y":4.4e-4,"lo":2.7e-4,"hi":6.1e-4},{"s":"0.058","x":0.41,"y":2.1e-4,"lo":1.1e-4,"hi":3.1e-4},{"s":"0.058","x":0.45,"y":1e-4,"lo":4.5e-5,"hi":1.55e-4},{"s":"0.058","x":0.49,"y":4.8e-5,"lo":1.9e-5,"hi":7.7e-5},{"s":"0.058","x":0.53,"y":2.2e-5,"lo":7e-6,"hi":3.7e-5},{"s":"0.058","x":0.57,"y":1e-5,"lo":1e-8,"hi":2e-5},{"s":"0.058","x":0.62,"y":4e-6,"lo":1e-8,"hi":9e-6},{"s":"0.058","x":0.663,"y":2.6e-6,"lo":1e-8,"hi":6e-6},{"s":"0.058","x":0.68,"y":2.6e-6,"lo":1e-8,"hi":6e-6},
{"s":"0.068","x":0.008,"y":0.45},{"s":"0.068","x":0.02,"y":0.02},{"s":"0.068","x":0.05,"y":0.2},{"s":"0.068","x":0.09,"y":0.1},{"s":"0.068","x":0.11,"y":0.065},{"s":"0.068","x":0.13,"y":0.04},{"s":"0.068","x":0.15,"y":0.026},{"s":"0.068","x":0.17,"y":0.017},{"s":"0.068","x":0.19,"y":0.011},{"s":"0.068","x":0.21,"y":0.0075},{"s":"0.068","x":0.23,"y":0.005},{"s":"0.068","x":0.25,"y":0.0033},{"s":"0.068","x":0.27,"y":0.0022},{"s":"0.068","x":0.29,"y":0.0015,"lo":0.0012,"hi":0.0018},{"s":"0.068","x":0.33,"y":7e-4,"lo":4.8e-4,"hi":9.2e-4},{"s":"0.068","x":0.37,"y":3.2e-4,"lo":1.9e-4,"hi":4.5e-4},{"s":"0.068","x":0.41,"y":1.5e-4,"lo":7.5e-5,"hi":2.25e-4},{"s":"0.068","x":0.45,"y":7e-5,"lo":3e-5,"hi":1.1e-4},{"s":"0.068","x":0.49,"y":3.3e-5,"lo":1.2e-5,"hi":5.4e-5},{"s":"0.068","x":0.53,"y":1.5e-5,"lo":4e-6,"hi":2.6e-5},{"s":"0.068","x":0.57,"y":7e-6,"lo":1e-8,"hi":1.5e-5},{"s":"0.068","x":0.62,"y":3e-6,"lo":1e-8,"hi":7e-6},{"s":"0.068","x":0.772,"y":1.4e-6,"lo":1e-8,"hi":3.5e-6},{"s":"0.068","x":0.855,"y":1.4e-6,"lo":1e-8,"hi":3.5e-6},
{"s":"0.078","x":0.008,"y":0.48},{"s":"0.078","x":0.02,"y":0.02},{"s":"0.078","x":0.04,"y":0.018},{"s":"0.078","x":0.05,"y":0.16},{"s":"0.078","x":0.07,"y":0.03},{"s":"0.078","x":0.09,"y":0.07},{"s":"0.078","x":0.11,"y":0.045},{"s":"0.078","x":0.13,"y":0.025},{"s":"0.078","x":0.15,"y":0.012},{"s":"0.078","x":0.17,"y":0.0045},{"s":"0.078","x":0.2,"y":0.004},{"s":"0.078","x":0.22,"y":0.0025},{"s":"0.078","x":0.24,"y":0.0015,"lo":0.0012,"hi":0.0018},{"s":"0.078","x":0.26,"y":0.0011},{"s":"0.078","x":0.29,"y":6.4e-4,"lo":4.4e-4,"hi":8.4e-4},{"s":"0.078","x":0.33,"y":4e-4,"lo":2.5e-4,"hi":5.5e-4},{"s":"0.078","x":0.37,"y":2e-4,"lo":1.1e-4,"hi":2.9e-4},{"s":"0.078","x":0.41,"y":9e-5,"lo":4e-5,"hi":1.4e-4},{"s":"0.078","x":0.45,"y":4e-5,"lo":1.6e-5,"hi":6.4e-5},{"s":"0.078","x":0.49,"y":2e-5,"lo":6e-6,"hi":3.4e-5},{"s":"0.078","x":0.53,"y":1e-5,"lo":1e-8,"hi":2e-5},{"s":"0.078","x":0.57,"y":5e-6,"lo":1e-8,"hi":1.1e-5},{"s":"0.078","x":0.61,"y":4e-6,"lo":1e-8,"hi":9e-6},{"s":"0.078","x":0.66,"y":1.8e-6,"lo":1e-8,"hi":4e-6},{"s":"0.078","x":0.68,"y":1.4e-6,"lo":1e-8,"hi":3.5e-6},{"s":"0.078","x":0.72,"y":2.8e-6,"lo":1e-8,"hi":6e-6},{"s":"0.078","x":0.998,"y":1.4e-6,"lo":1e-8,"hi":3.5e-6},
{"s":"0.088","x":0.008,"y":0.4},{"s":"0.088","x":0.02,"y":0.025},{"s":"0.088","x":0.05,"y":0.2},{"s":"0.088","x":0.058,"y":0.035},{"s":"0.088","x":0.09,"y":0.1},{"s":"0.088","x":0.13,"y":0.038},{"s":"0.088","x":0.17,"y":0.016},{"s":"0.088","x":0.21,"y":0.007},{"s":"0.088","x":0.25,"y":0.0031},{"s":"0.088","x":0.29,"y":0.0014,"lo":0.0011,"hi":0.0017},{"s":"0.088","x":0.33,"y":6.5e-4,"lo":4.4e-4,"hi":8.6e-4},{"s":"0.088","x":0.37,"y":3e-4,"lo":1.8e-4,"hi":4.2e-4},{"s":"0.088","x":0.41,"y":1.4e-4,"lo":7e-5,"hi":2.1e-4},{"s":"0.088","x":0.45,"y":6.5e-5,"lo":2.8e-5,"hi":1e-4},{"s":"0.088","x":0.49,"y":3e-5,"lo":1.1e-5,"hi":5e-5},{"s":"0.088","x":0.53,"y":1.4e-5,"lo":4e-6,"hi":2.4e-5},{"s":"0.088","x":0.57,"y":7e-6,"lo":1e-8,"hi":1.5e-5},{"s":"0.088","x":0.61,"y":2e-6,"lo":1e-8,"hi":4.5e-6},{"s":"0.088","x":0.797,"y":1.6e-6,"lo":1e-8,"hi":4e-6},{"s":"0.088","x":0.891,"y":1.6e-6,"lo":1e-8,"hi":4e-6},
{"s":"0.098","x":0.008,"y":0.38},{"s":"0.098","x":0.02,"y":0.022},{"s":"0.098","x":0.05,"y":0.19},{"s":"0.098","x":0.07,"y":0.04},{"s":"0.098","x":0.09,"y":0.1},{"s":"0.098","x":0.11,"y":0.065},{"s":"0.098","x":0.13,"y":0.04},{"s":"0.098","x":0.15,"y":0.026},{"s":"0.098","x":0.17,"y":0.017},{"s":"0.098","x":0.19,"y":0.011},{"s":"0.098","x":0.21,"y":0.0075},{"s":"0.098","x":0.23,"y":0.005},{"s":"0.098","x":0.25,"y":0.0034},{"s":"0.098","x":0.27,"y":0.0023},{"s":"0.098","x":0.29,"y":0.0015,"lo":0.0012,"hi":0.0018},{"s":"0.098","x":0.31,"y":0.001},{"s":"0.098","x":0.33,"y":7e-4,"lo":4.8e-4,"hi":9.2e-4},{"s":"0.098","x":0.37,"y":3.3e-4,"lo":2e-4,"hi":4.6e-4},{"s":"0.098","x":0.41,"y":1.5e-4,"lo":7.5e-5,"hi":2.25e-4},{"s":"0.098","x":0.45,"y":7e-5,"lo":3e-5,"hi":1.1e-4},{"s":"0.098","x":0.49,"y":3.3e-5,"lo":1.2e-5,"hi":5.4e-5},{"s":"0.098","x":0.53,"y":1.5e-5,"lo":4e-6,"hi":2.6e-5},{"s":"0.098","x":0.57,"y":7e-6,"lo":1e-8,"hi":1.5e-5},{"s":"0.098","x":0.62,"y":2e-6,"lo":1e-8,"hi":4.5e-6},{"s":"0.098","x":0.865,"y":1.9e-6,"lo":1e-8,"hi":4.5e-6},{"s":"0.098","x":0.933,"y":3.8e-6,"lo":1e-8,"hi":8e-6},
{"s":"0.108","x":0.008,"y":0.36},{"s":"0.108","x":0.05,"y":0.19},{"s":"0.108","x":0.09,"y":0.1},{"s":"0.108","x":0.13,"y":0.042},{"s":"0.108","x":0.17,"y":0.018},{"s":"0.108","x":0.21,"y":0.008},{"s":"0.108","x":0.25,"y":0.0036},{"s":"0.108","x":0.29,"y":0.0016,"lo":0.0013,"hi":0.0019},{"s":"0.108","x":0.33,"y":7.5e-4,"lo":5.1e-4,"hi":9.9e-4},{"s":"0.108","x":0.37,"y":3.5e-4,"lo":2.1e-4,"hi":4.9e-4},{"s":"0.108","x":0.41,"y":1.6e-4,"lo":8e-5,"hi":2.4e-4},{"s":"0.108","x":0.45,"y":7.5e-5,"lo":3.2e-5,"hi":1.18e-4},{"s":"0.108","x":0.49,"y":3.5e-5,"lo":1.3e-5,"hi":5.7e-5},{"s":"0.108","x":0.53,"y":1.7e-5,"lo":5e-6,"hi":2.9e-5},{"s":"0.108","x":0.57,"y":8e-6,"lo":1e-8,"hi":1.7e-5},{"s":"0.108","x":0.63,"y":4e-6,"lo":1e-8,"hi":9e-6},{"s":"0.108","x":0.68,"y":2.6e-6,"lo":1e-8,"hi":6e-6},{"s":"0.108","x":0.849,"y":2.6e-6,"lo":1e-8,"hi":6e-6},
{"s":"0.118","x":0.008,"y":0.3},{"s":"0.118","x":0.015,"y":0.028},{"s":"0.118","x":0.05,"y":0.22},{"s":"0.118","x":0.09,"y":0.12},{"s":"0.118","x":0.11,"y":0.08},{"s":"0.118","x":0.13,"y":0.055},{"s":"0.118","x":0.15,"y":0.036},{"s":"0.118","x":0.17,"y":0.024},{"s":"0.118","x":0.19,"y":0.016},{"s":"0.118","x":0.21,"y":0.011},{"s":"0.118","x":0.23,"y":0.0075},{"s":"0.118","x":0.25,"y":0.005},{"s":"0.118","x":0.27,"y":0.0034},{"s":"0.118","x":0.29,"y":0.0023,"lo":0.0018,"hi":0.0028},{"s":"0.118","x":0.31,"y":0.0016},{"s":"0.118","x":0.33,"y":0.0011,"lo":7.5e-4,"hi":1.45e-3},{"s":"0.118","x":0.37,"y":5e-4,"lo":3.1e-4,"hi":6.9e-4},{"s":"0.118","x":0.41,"y":2.3e-4,"lo":1.2e-4,"hi":3.4e-4},{"s":"0.118","x":0.45,"y":1.1e-4,"lo":5e-5,"hi":1.7e-4},{"s":"0.118","x":0.49,"y":5e-5,"lo":2e-5,"hi":8e-5},{"s":"0.118","x":0.52,"y":2.6e-5,"lo":8e-6,"hi":4.4e-5},{"s":"0.118","x":0.55,"y":1.5e-5,"lo":4e-6,"hi":2.6e-5},{"s":"0.118","x":0.6,"y":8e-6,"lo":1e-8,"hi":1.7e-5},{"s":"0.118","x":0.741,"y":3.8e-6,"lo":1e-8,"hi":8e-6},
{"s":"0.128","x":0.008,"y":0.28},{"s":"0.128","x":0.05,"y":0.2},{"s":"0.128","x":0.09,"y":0.11},{"s":"0.128","x":0.13,"y":0.05},{"s":"0.128","x":0.17,"y":0.022},{"s":"0.128","x":0.21,"y":0.01},{"s":"0.128","x":0.25,"y":0.0045},{"s":"0.128","x":0.29,"y":0.002,"lo":0.0015,"hi":0.0025},{"s":"0.128","x":0.33,"y":9e-4,"lo":5.5e-4,"hi":1.25e-3},{"s":"0.128","x":0.37,"y":4e-4,"lo":2.2e-4,"hi":5.8e-4},{"s":"0.128","x":0.41,"y":1.8e-4,"lo":8e-5,"hi":2.8e-4},{"s":"0.128","x":0.45,"y":8e-5,"lo":3e-5,"hi":1.3e-4},{"s":"0.128","x":0.49,"y":3.5e-5,"lo":1e-5,"hi":6e-5},{"s":"0.128","x":0.53,"y":1.5e-5,"lo":1e-8,"hi":3e-5},{"s":"0.128","x":0.57,"y":7e-6,"lo":1e-8,"hi":1.5e-5},{"s":"0.128","x":0.61,"y":3e-6,"lo":1e-8,"hi":7e-6},
{"s":"0.138","x":0.008,"y":0.22},{"s":"0.138","x":0.04,"y":0.2},{"s":"0.138","x":0.07,"y":0.14},{"s":"0.138","x":0.1,"y":0.08},{"s":"0.138","x":0.115,"y":0.065},{"s":"0.138","x":0.13,"y":0.05},{"s":"0.138","x":0.145,"y":0.04},{"s":"0.138","x":0.16,"y":0.03},{"s":"0.138","x":0.175,"y":0.022},{"s":"0.138","x":0.19,"y":0.016},{"s":"0.138","x":0.205,"y":0.012},{"s":"0.138","x":0.22,"y":0.009},{"s":"0.138","x":0.235,"y":0.0068},{"s":"0.138","x":0.25,"y":0.005},{"s":"0.138","x":0.265,"y":0.0036},{"s":"0.138","x":0.28,"y":0.0025,"lo":0.0019,"hi":0.0031},{"s":"0.138","x":0.31,"y":0.0013,"lo":9e-4,"hi":1.7e-3},{"s":"0.138","x":0.344,"y":3.7e-4,"lo":2e-4,"hi":5.4e-4},{"s":"0.138","x":0.373,"y":5.7e-5,"lo":1.5e-5,"hi":1e-4},{"s":"0.138","x":0.385,"y":3.8e-5,"lo":1e-5,"hi":7e-5},{"s":"0.138","x":0.4,"y":3.8e-5,"lo":1e-5,"hi":7e-5},{"s":"0.138","x":0.405,"y":5.7e-5,"lo":1.5e-5,"hi":1e-4},{"s":"0.138","x":0.43,"y":1.9e-5,"lo":1e-8,"hi":4.5e-5},{"s":"0.138","x":0.45,"y":1.9e-5,"lo":1e-8,"hi":4.5e-5},{"s":"0.138","x":0.465,"y":1.9e-5,"lo":1e-8,"hi":4.5e-5},{"s":"0.138","x":0.49,"y":1.9e-5,"lo":1e-8,"hi":4.5e-5},{"s":"0.138","x":0.51,"y":1.9e-5,"lo":1e-8,"hi":4.5e-5},{"s":"0.138","x":0.567,"y":5.6e-5,"lo":1.5e-5,"hi":1e-4},{"s":"0.138","x":0.665,"y":1.9e-5,"lo":1e-8,"hi":4.5e-5},
{"s":"0.148","x":0.006,"y":0.27},{"s":"0.148","x":0.012,"y":0.033},{"s":"0.148","x":0.023,"y":0.033},{"s":"0.148","x":0.03,"y":0.2},{"s":"0.148","x":0.06,"y":0.16},{"s":"0.148","x":0.075,"y":0.13},{"s":"0.148","x":0.09,"y":0.1},{"s":"0.148","x":0.105,"y":0.08},{"s":"0.148","x":0.12,"y":0.06},{"s":"0.148","x":0.135,"y":0.046},{"s":"0.148","x":0.15,"y":0.035},{"s":"0.148","x":0.165,"y":0.027},{"s":"0.148","x":0.18,"y":0.02},{"s":"0.148","x":0.195,"y":0.014},{"s":"0.148","x":0.21,"y":0.01,"lo":0.008,"hi":0.012},{"s":"0.148","x":0.228,"y":8.5e-4,"lo":5e-4,"hi":1.2e-3},{"s":"0.148","x":0.24,"y":0.006,"lo":0.0045,"hi":0.0075},{"s":"0.148","x":0.27,"y":0.0035,"lo":0.0025,"hi":0.0045},{"s":"0.148","x":0.3,"y":0.0018,"lo":0.0011,"hi":0.0025},{"s":"0.148","x":0.32,"y":0.001,"lo":5e-4,"hi":1.5e-3},{"s":"0.148","x":0.349,"y":9.6e-5,"lo":3e-5,"hi":1.9e-4},{"s":"0.148","x":0.4,"y":9.6e-5,"lo":3e-5,"hi":1.9e-4},{"s":"0.148","x":0.42,"y":9.6e-5,"lo":3e-5,"hi":1.9e-4},{"s":"0.148","x":0.44,"y":9.6e-5,"lo":3e-5,"hi":1.9e-4},{"s":"0.148","x":0.46,"y":9.6e-5,"lo":3e-5,"hi":1.9e-4},
{"s":"0.154","x":0.006,"y":0.2},{"s":"0.154","x":0.008,"y":0.14},{"s":"0.154","x":0.02,"y":0.015},{"s":"0.154","x":0.046,"y":0.08},{"s":"0.154","x":0.062,"y":0.1},{"s":"0.154","x":0.08,"y":0.12},{"s":"0.154","x":0.1,"y":0.07},{"s":"0.154","x":0.12,"y":0.055},{"s":"0.154","x":0.145,"y":0.047,"lo":0.038,"hi":0.056},{"s":"0.154","x":0.16,"y":0.03,"lo":0.024,"hi":0.036},{"s":"0.154","x":0.195,"y":0.019,"lo":0.014,"hi":0.024},{"s":"0.154","x":0.22,"y":0.008,"lo":0.0055,"hi":0.0105},{"s":"0.154","x":0.25,"y":0.005,"lo":0.0033,"hi":0.0067},{"s":"0.154","x":0.278,"y":0.0032,"lo":0.0018,"hi":0.0046},{"s":"0.154","x":0.3,"y":0.0015,"lo":7e-4,"hi":0.0023},{"s":"0.154","x":0.315,"y":0.0022,"lo":0.0011,"hi":0.0033},{"s":"0.154","x":0.34,"y":9e-4,"lo":3e-4,"hi":0.0015},{"s":"0.154","x":0.36,"y":6e-4,"lo":1e-8,"hi":0.0012}
]
},
"vconcat": [
{
"spacing": 45,
"vconcat": [
{
"hconcat": [
{
"width": 403, "height": 391,
"view": {"stroke": "#333", "strokeWidth": 1.8},
"data": {"name": "d1"},
"resolve": {"axis": {"x": "independent", "y": "independent"}},
"layer": [
{
"transform": [{"filter": "isValid(datum.lo)"}],
"mark": {"type": "errorbar", "ticks": true, "thickness": 1.1},
"encoding": {
"x": {"field": "x", "type": "quantitative", "scale": {"domain": [0, 1], "nice": false}, "axis": {"orient": "top", "values": [0.2, 0.4, 0.6, 0.8], "labels": false, "title": null, "tickSize": -6, "tickWidth": 1.5, "tickColor": "#333", "domain": false}},
"y": {"field": "lo", "type": "quantitative", "scale": {"type": "log", "domain": [1e-7, 1], "clamp": true}, "axis": {"orient": "right", "values": [1e-7,2e-7,3e-7,4e-7,5e-7,6e-7,7e-7,8e-7,9e-7,1e-6,2e-6,3e-6,4e-6,5e-6,6e-6,7e-6,8e-6,9e-6,1e-5,2e-5,3e-5,4e-5,5e-5,6e-5,7e-5,8e-5,9e-5,1e-4,2e-4,3e-4,4e-4,5e-4,6e-4,7e-4,8e-4,9e-4,0.001,0.002,0.003,0.004,0.005,0.006,0.007,0.008,0.009,0.01,0.02,0.03,0.04,0.05,0.06,0.07,0.08,0.09,0.1,0.2,0.3,0.4,0.5,0.6,0.7,0.8,0.9,1], "labels": false, "title": null, "tickSize": {"condition": {"test": "abs(log(datum.value)/LN10 - round(log(datum.value)/LN10)) < 0.001", "value": -8}, "value": -4}, "tickWidth": 1.2, "tickColor": "#333", "domain": false}},
"y2": {"field": "hi"},
"color": {"field": "s", "type": "nominal", "scale": {"domain": ["0.018","0.028","0.038","0.048","0.058","0.068","0.078","0.088","0.098","0.108","0.118","0.128","0.138","0.148","0.154"], "range": ["#5e3585","#5e2a80","#5b68a8","#5b68a8","#5c5aa0","#4a98b0","#3f93a6","#3bb59a","#3bb59a","#33a89a","#86d78a","#a6e08a","#93da86","#fde74c","#fde74c"]}, "legend": null}
}
},
{
"mark": {"type": "point", "filled": true, "opacity": 1, "size": 55},
"encoding": {
"x": {"field": "x", "type": "quantitative", "scale": {"domain": [0, 1], "nice": false}, "axis": {"values": [0, 0.2, 0.4, 0.6, 0.8, 1], "format": ".1f", "title": "Fraction of Bubbles Involved", "titleFont": "DejaVu Sans", "titleFontSize": 24, "titleFontWeight": "normal", "titleColor": "black", "titlePadding": 4, "labelFont": "DejaVu Sans", "labelFontSize": 14, "labelColor": "black", "tickSize": -6, "tickWidth": 1.5, "tickColor": "#333", "labelPadding": 11, "domain": false, "labelFlush": false}},
"y": {"field": "y", "type": "quantitative", "scale": {"type": "log", "domain": [1e-7, 1], "clamp": true}, "axis": {"values": [1e-7,2e-7,3e-7,4e-7,5e-7,6e-7,7e-7,8e-7,9e-7,1e-6,2e-6,3e-6,4e-6,5e-6,6e-6,7e-6,8e-6,9e-6,1e-5,2e-5,3e-5,4e-5,5e-5,6e-5,7e-5,8e-5,9e-5,1e-4,2e-4,3e-4,4e-4,5e-4,6e-4,7e-4,8e-4,9e-4,0.001,0.002,0.003,0.004,0.005,0.006,0.007,0.008,0.009,0.01,0.02,0.03,0.04,0.05,0.06,0.07,0.08,0.09,0.1,0.2,0.3,0.4,0.5,0.6,0.7,0.8,0.9,1], "labelExpr": "abs(log(datum.value)/LN10 - round(log(datum.value)/LN10)) < 0.001 ? '10' + ['⁰','⁻¹','⁻²','⁻³','⁻⁴','⁻⁵','⁻⁶','⁻⁷'][-round(log(datum.value)/LN10)] : ''", "labelOverlap": false, "title": "Relative Frequency", "titleFont": "DejaVu Sans", "titleFontSize": 24, "titleFontWeight": "normal", "titleColor": "black", "titlePadding": 6, "labelFont": "DejaVu Sans", "labelFontSize": 14, "labelColor": "black", "tickSize": {"condition": {"test": "abs(log(datum.value)/LN10 - round(log(datum.value)/LN10)) < 0.001", "value": -8}, "value": -4}, "tickWidth": 1.2, "tickColor": "#333", "labelPadding": 13, "domain": false, "labelFlush": false}},
"fill": {"field": "s", "type": "nominal", "scale": {"domain": ["0.018","0.028","0.038","0.048","0.058","0.068","0.078","0.088","0.098","0.108","0.118","0.128","0.138","0.148","0.154"], "range": ["#4a2070","#440154","#3b4a8c","#3c4d8a","#433e85","#33839b","#297b8e","#20a486","#25ab82","#1e9a8a","#5cc863","#84d44b","#6ccd5a","#fde725","#fde725"]}, "legend": null},
"stroke": {"field": "s", "type": "nominal", "scale": {"domain": ["0.018","0.028","0.038","0.048","0.058","0.068","0.078","0.088","0.098","0.108","0.118","0.128","0.138","0.148","0.154"], "range": ["#4a2070","#111111","#111111","#111111","#111111","#33839b","#111111","#111111","#111111","#111111","#111111","#84d44b","#111111","#111111","#111111"]}, "legend": null},
"strokeWidth": {"field": "s", "type": "nominal", "scale": {"domain": ["0.018","0.028","0.038","0.048","0.058","0.068","0.078","0.088","0.098","0.108","0.118","0.128","0.138","0.148","0.154"], "range": [1.3,0.7,0.7,0.7,0.7,1.3,0.7,0.7,0.7,0.7,0.7,1.3,0.7,0.7,0.7]}, "legend": null},
"shape": {"field": "s", "type": "nominal", "scale": {"domain": ["0.018","0.028","0.038","0.048","0.058","0.068","0.078","0.088","0.098","0.108","0.118","0.128","0.138","0.148","0.154"], "range": ["M-1,0L1,0M0,-1L0,1","square","circle","triangle-up","triangle-down","M-0.75,-0.75L0.75,0.75M-0.75,0.75L0.75,-0.75","diamond","triangle-left","triangle-right","M0,-1L0.235,-0.324L0.951,-0.309L0.38,0.124L0.588,0.809L0,0.4L-0.588,0.809L-0.38,0.124L-0.951,-0.309L-0.235,-0.324Z","circle","M-1,0L1,0M0,-1L0,1","square","circle","triangle-up"]}, "legend": null}
}
}
]
},
{
"width": 124, "height": 358,
"view": {"stroke": "#333", "strokeWidth": 2},
"data": {"name": "leg1"},
"encoding": {"y": {"field": "s", "type": "nominal", "scale": {"type": "point", "domain": ["0.018","0.028","0.038","0.048","0.058","0.068","0.078","0.088","0.098","0.108","0.118","0.128","0.138","0.148","0.154"], "padding": 0.62}, "axis": null}},
"layer": [
{"mark": {"type": "point", "filled": false, "opacity": 1, "size": 300, "strokeWidth": 1.2, "shape": "M-0.3,-1L0.3,-1M0,-1L0,1M-0.3,1L0.3,1"},
 "encoding": {"x": {"datum": 12.5, "type": "quantitative", "scale": {"domain": [0, 124], "nice": false, "zero": false}, "axis": null},
 "color": {"field": "s", "type": "nominal", "scale": {"domain": ["0.018","0.028","0.038","0.048","0.058","0.068","0.078","0.088","0.098","0.108","0.118","0.128","0.138","0.148","0.154"], "range": ["#5e3585","#5e2a80","#5b68a8","#5b68a8","#5c5aa0","#4a98b0","#3f93a6","#3bb59a","#3bb59a","#33a89a","#86d78a","#a6e08a","#93da86","#fde74c","#fde74c"]}, "legend": null}}},
{"mark": {"type": "point", "filled": false, "opacity": 1, "size": 300, "strokeWidth": 1.2, "shape": "M-0.3,-1L0.3,-1M0,-1L0,1M-0.3,1L0.3,1"},
 "encoding": {"x": {"datum": 34.7, "type": "quantitative", "scale": {"domain": [0, 124], "nice": false, "zero": false}, "axis": null},
 "color": {"field": "s", "type": "nominal", "legend": null}}},
{"mark": {"type": "point", "filled": true, "opacity": 1, "size": 55},
 "encoding": {"x": {"datum": 12.5, "type": "quantitative", "axis": null},
 "fill": {"field": "s", "type": "nominal", "scale": {"domain": ["0.018","0.028","0.038","0.048","0.058","0.068","0.078","0.088","0.098","0.108","0.118","0.128","0.138","0.148","0.154"], "range": ["#4a2070","#440154","#3b4a8c","#3c4d8a","#433e85","#33839b","#297b8e","#20a486","#25ab82","#1e9a8a","#5cc863","#84d44b","#6ccd5a","#fde725","#fde725"]}, "legend": null},
 "stroke": {"field": "s", "type": "nominal", "scale": {"domain": ["0.018","0.028","0.038","0.048","0.058","0.068","0.078","0.088","0.098","0.108","0.118","0.128","0.138","0.148","0.154"], "range": ["#4a2070","#111111","#111111","#111111","#111111","#33839b","#111111","#111111","#111111","#111111","#111111","#84d44b","#111111","#111111","#111111"]}, "legend": null},
 "strokeWidth": {"field": "s", "type": "nominal", "scale": {"domain": ["0.018","0.028","0.038","0.048","0.058","0.068","0.078","0.088","0.098","0.108","0.118","0.128","0.138","0.148","0.154"], "range": [1.3,0.7,0.7,0.7,0.7,1.3,0.7,0.7,0.7,0.7,0.7,1.3,0.7,0.7,0.7]}, "legend": null},
 "shape": {"field": "s", "type": "nominal", "scale": {"domain": ["0.018","0.028","0.038","0.048","0.058","0.068","0.078","0.088","0.098","0.108","0.118","0.128","0.138","0.148","0.154"], "range": ["M-1,0L1,0M0,-1L0,1","square","circle","triangle-up","triangle-down","M-0.75,-0.75L0.75,0.75M-0.75,0.75L0.75,-0.75","diamond","triangle-left","triangle-right","M0,-1L0.235,-0.324L0.951,-0.309L0.38,0.124L0.588,0.809L0,0.4L-0.588,0.809L-0.38,0.124L-0.951,-0.309L-0.235,-0.324Z","circle","M-1,0L1,0M0,-1L0,1","square","circle","triangle-up"]}, "legend": null}}},
{"mark": {"type": "point", "filled": true, "opacity": 1, "size": 55},
 "encoding": {"x": {"datum": 34.7, "type": "quantitative", "axis": null},
 "fill": {"field": "s", "type": "nominal", "legend": null},
 "stroke": {"field": "s", "type": "nominal", "legend": null},
 "strokeWidth": {"field": "s", "type": "nominal", "legend": null},
 "shape": {"field": "s", "type": "nominal", "legend": null}}},
{"mark": {"type": "text", "align": "left", "baseline": "middle", "font": "DejaVu Serif", "fontSize": 14, "color": "black"},
 "encoding": {"x": {"datum": 53, "type": "quantitative", "axis": null}, "text": {"field": "lab"}}}
]
}
],
"spacing": 3,
"bounds": "flush"
},
{
"hconcat": [
{
"width": 403, "height": 390,
"view": {"stroke": "#333", "strokeWidth": 1.8},
"data": {"name": "d2"},
"resolve": {"axis": {"x": "independent", "y": "independent"}},
"layer": [
{
"transform": [{"filter": "isValid(datum.lo)"}],
"mark": {"type": "errorbar", "ticks": true, "thickness": 1.1},
"encoding": {
"x": {"field": "x", "type": "quantitative", "scale": {"domain": [0, 1], "nice": false}, "axis": {"orient": "top", "values": [0.2, 0.4, 0.6, 0.8], "labels": false, "title": null, "tickSize": -6, "tickWidth": 1.5, "tickColor": "#333", "domain": false}},
"y": {"field": "lo", "type": "quantitative", "scale": {"type": "log", "domain": [1e-7, 1], "clamp": true}, "axis": {"orient": "right", "values": [1e-7,2e-7,3e-7,4e-7,5e-7,6e-7,7e-7,8e-7,9e-7,1e-6,2e-6,3e-6,4e-6,5e-6,6e-6,7e-6,8e-6,9e-6,1e-5,2e-5,3e-5,4e-5,5e-5,6e-5,7e-5,8e-5,9e-5,1e-4,2e-4,3e-4,4e-4,5e-4,6e-4,7e-4,8e-4,9e-4,0.001,0.002,0.003,0.004,0.005,0.006,0.007,0.008,0.009,0.01,0.02,0.03,0.04,0.05,0.06,0.07,0.08,0.09,0.1,0.2,0.3,0.4,0.5,0.6,0.7,0.8,0.9,1], "labels": false, "title": null, "tickSize": {"condition": {"test": "abs(log(datum.value)/LN10 - round(log(datum.value)/LN10)) < 0.001", "value": -8}, "value": -4}, "tickWidth": 1.2, "tickColor": "#333", "domain": false}},
"y2": {"field": "hi"},
"color": {"field": "s", "type": "nominal", "scale": {"domain": ["0.018","0.028","0.038","0.048","0.058","0.068","0.078","0.088","0.098","0.108","0.118","0.128","0.138","0.148","0.154"], "range": ["#5e3585","#5e2a80","#5b68a8","#5b68a8","#5c5aa0","#4a98b0","#3f93a6","#3bb59a","#3bb59a","#33a89a","#86d78a","#a6e08a","#93da86","#fde74c","#fde74c"]}, "legend": null}
}
},
{
"mark": {"type": "point", "filled": true, "opacity": 1, "size": 55},
"encoding": {
"x": {"field": "x", "type": "quantitative", "scale": {"domain": [0, 1], "nice": false}, "axis": {"values": [0, 0.2, 0.4, 0.6, 0.8, 1], "format": ".1f", "title": "Rescaled Fraction of Bubbles Involved", "titleFont": "DejaVu Sans", "titleFontSize": 24, "titleFontWeight": "normal", "titleColor": "black", "titlePadding": 6, "labelFont": "DejaVu Sans", "labelFontSize": 14, "labelColor": "black", "tickSize": -6, "tickWidth": 1.5, "tickColor": "#333", "labelPadding": 11, "domain": false, "labelFlush": false}},
"y": {"field": "y", "type": "quantitative", "scale": {"type": "log", "domain": [1e-7, 1], "clamp": true}, "axis": {"values": [1e-7,2e-7,3e-7,4e-7,5e-7,6e-7,7e-7,8e-7,9e-7,1e-6,2e-6,3e-6,4e-6,5e-6,6e-6,7e-6,8e-6,9e-6,1e-5,2e-5,3e-5,4e-5,5e-5,6e-5,7e-5,8e-5,9e-5,1e-4,2e-4,3e-4,4e-4,5e-4,6e-4,7e-4,8e-4,9e-4,0.001,0.002,0.003,0.004,0.005,0.006,0.007,0.008,0.009,0.01,0.02,0.03,0.04,0.05,0.06,0.07,0.08,0.09,0.1,0.2,0.3,0.4,0.5,0.6,0.7,0.8,0.9,1], "labelExpr": "abs(log(datum.value)/LN10 - round(log(datum.value)/LN10)) < 0.001 ? '10' + ['⁰','⁻¹','⁻²','⁻³','⁻⁴','⁻⁵','⁻⁶','⁻⁷'][-round(log(datum.value)/LN10)] : ''", "labelOverlap": false, "title": "Rescaled Relative Frequency", "titleFont": "DejaVu Sans", "titleFontSize": 24, "titleFontWeight": "normal", "titleColor": "black", "titlePadding": 6, "labelFont": "DejaVu Sans", "labelFontSize": 14, "labelColor": "black", "tickSize": {"condition": {"test": "abs(log(datum.value)/LN10 - round(log(datum.value)/LN10)) < 0.001", "value": -8}, "value": -4}, "tickWidth": 1.2, "tickColor": "#333", "labelPadding": 13, "domain": false, "labelFlush": false}},
"fill": {"field": "s", "type": "nominal", "scale": {"domain": ["0.018","0.028","0.038","0.048","0.058","0.068","0.078","0.088","0.098","0.108","0.118","0.128","0.138","0.148","0.154"], "range": ["#4a2070","#440154","#3b4a8c","#3c4d8a","#433e85","#33839b","#297b8e","#20a486","#25ab82","#1e9a8a","#5cc863","#84d44b","#6ccd5a","#fde725","#fde725"]}, "legend": null},
"stroke": {"field": "s", "type": "nominal", "scale": {"domain": ["0.018","0.028","0.038","0.048","0.058","0.068","0.078","0.088","0.098","0.108","0.118","0.128","0.138","0.148","0.154"], "range": ["#4a2070","#111111","#111111","#111111","#111111","#33839b","#111111","#111111","#111111","#111111","#111111","#84d44b","#111111","#111111","#111111"]}, "legend": null},
"strokeWidth": {"field": "s", "type": "nominal", "scale": {"domain": ["0.018","0.028","0.038","0.048","0.058","0.068","0.078","0.088","0.098","0.108","0.118","0.128","0.138","0.148","0.154"], "range": [1.3,0.7,0.7,0.7,0.7,1.3,0.7,0.7,0.7,0.7,0.7,1.3,0.7,0.7,0.7]}, "legend": null},
"shape": {"field": "s", "type": "nominal", "scale": {"domain": ["0.018","0.028","0.038","0.048","0.058","0.068","0.078","0.088","0.098","0.108","0.118","0.128","0.138","0.148","0.154"], "range": ["M-1,0L1,0M0,-1L0,1","square","circle","triangle-up","triangle-down","M-0.75,-0.75L0.75,0.75M-0.75,0.75L0.75,-0.75","diamond","triangle-left","triangle-right","M0,-1L0.235,-0.324L0.951,-0.309L0.38,0.124L0.588,0.809L0,0.4L-0.588,0.809L-0.38,0.124L-0.951,-0.309L-0.235,-0.324Z","circle","M-1,0L1,0M0,-1L0,1","square","circle","triangle-up"]}, "legend": null}
}
},
{
"data": {"name": "fit2"},
"mark": {"type": "line", "color": "black", "strokeWidth": 1.1},
"encoding": {
"x": {"field": "x", "type": "quantitative", "axis": null},
"y": {"field": "y", "type": "quantitative", "axis": null}
}
}
]
},
{
"width": 124, "height": 380,
"view": {"stroke": "#333", "strokeWidth": 2},
"data": {"name": "leg2"},
"encoding": {"y": {"field": "s", "type": "nominal", "scale": {"type": "point", "domain": ["fit","0.018","0.028","0.038","0.048","0.058","0.068","0.078","0.088","0.098","0.108","0.118","0.128","0.138","0.148","0.154"], "padding": 0.57}, "axis": null}},
"layer": [
{"transform": [{"filter": "datum.s === 'fit'"}],
 "mark": {"type": "point", "filled": false, "opacity": 1, "size": 576, "strokeWidth": 1.2, "color": "black", "shape": "M-1,0L1,0"},
 "encoding": {"x": {"datum": 23.7, "type": "quantitative", "scale": {"domain": [0, 124], "nice": false, "zero": false}, "axis": null}}},
{"transform": [{"filter": "datum.s !== 'fit'"}],
 "mark": {"type": "point", "filled": false, "opacity": 1, "size": 300, "strokeWidth": 1.2, "shape": "M-0.3,-1L0.3,-1M0,-1L0,1M-0.3,1L0.3,1"},
 "encoding": {"x": {"datum": 12.5, "type": "quantitative", "axis": null},
 "color": {"field": "s", "type": "nominal", "scale": {"domain": ["0.018","0.028","0.038","0.048","0.058","0.068","0.078","0.088","0.098","0.108","0.118","0.128","0.138","0.148","0.154"], "range": ["#5e3585","#5e2a80","#5b68a8","#5b68a8","#5c5aa0","#4a98b0","#3f93a6","#3bb59a","#3bb59a","#33a89a","#86d78a","#a6e08a","#93da86","#fde74c","#fde74c"]}, "legend": null}}},
{"transform": [{"filter": "datum.s !== 'fit'"}],
 "mark": {"type": "point", "filled": false, "opacity": 1, "size": 300, "strokeWidth": 1.2, "shape": "M-0.3,-1L0.3,-1M0,-1L0,1M-0.3,1L0.3,1"},
 "encoding": {"x": {"datum": 34.7, "type": "quantitative", "axis": null},
 "color": {"field": "s", "type": "nominal", "legend": null}}},
{"transform": [{"filter": "datum.s !== 'fit'"}],
 "mark": {"type": "point", "filled": true, "opacity": 1, "size": 55},
 "encoding": {"x": {"datum": 12.5, "type": "quantitative", "axis": null},
 "fill": {"field": "s", "type": "nominal", "scale": {"domain": ["0.018","0.028","0.038","0.048","0.058","0.068","0.078","0.088","0.098","0.108","0.118","0.128","0.138","0.148","0.154"], "range": ["#4a2070","#440154","#3b4a8c","#3c4d8a","#433e85","#33839b","#297b8e","#20a486","#25ab82","#1e9a8a","#5cc863","#84d44b","#6ccd5a","#fde725","#fde725"]}, "legend": null},
 "stroke": {"field": "s", "type": "nominal", "scale": {"domain": ["0.018","0.028","0.038","0.048","0.058","0.068","0.078","0.088","0.098","0.108","0.118","0.128","0.138","0.148","0.154"], "range": ["#4a2070","#111111","#111111","#111111","#111111","#33839b","#111111","#111111","#111111","#111111","#111111","#84d44b","#111111","#111111","#111111"]}, "legend": null},
 "strokeWidth": {"field": "s", "type": "nominal", "scale": {"domain": ["0.018","0.028","0.038","0.048","0.058","0.068","0.078","0.088","0.098","0.108","0.118","0.128","0.138","0.148","0.154"], "range": [1.3,0.7,0.7,0.7,0.7,1.3,0.7,0.7,0.7,0.7,0.7,1.3,0.7,0.7,0.7]}, "legend": null},
 "shape": {"field": "s", "type": "nominal", "scale": {"domain": ["0.018","0.028","0.038","0.048","0.058","0.068","0.078","0.088","0.098","0.108","0.118","0.128","0.138","0.148","0.154"], "range": ["M-1,0L1,0M0,-1L0,1","square","circle","triangle-up","triangle-down","M-0.75,-0.75L0.75,0.75M-0.75,0.75L0.75,-0.75","diamond","triangle-left","triangle-right","M0,-1L0.235,-0.324L0.951,-0.309L0.38,0.124L0.588,0.809L0,0.4L-0.588,0.809L-0.38,0.124L-0.951,-0.309L-0.235,-0.324Z","circle","M-1,0L1,0M0,-1L0,1","square","circle","triangle-up"]}, "legend": null}}},
{"transform": [{"filter": "datum.s !== 'fit'"}],
 "mark": {"type": "point", "filled": true, "opacity": 1, "size": 55},
 "encoding": {"x": {"datum": 34.7, "type": "quantitative", "axis": null},
 "fill": {"field": "s", "type": "nominal", "legend": null},
 "stroke": {"field": "s", "type": "nominal", "legend": null},
 "strokeWidth": {"field": "s", "type": "nominal", "legend": null},
 "shape": {"field": "s", "type": "nominal", "legend": null}}},
{"transform": [{"filter": "datum.s !== 'fit'"}],
 "mark": {"type": "text", "align": "left", "baseline": "middle", "font": "DejaVu Serif", "fontSize": 14, "color": "black"},
 "encoding": {"x": {"datum": 53, "type": "quantitative", "axis": null}, "text": {"field": "lab"}}},
{"transform": [{"filter": "datum.s === 'fit'"}],
 "mark": {"type": "text", "align": "left", "baseline": "middle", "font": "DejaVu Sans", "fontSize": 14, "color": "black"},
 "encoding": {"x": {"datum": 53, "type": "quantitative", "axis": null}, "text": {"field": "lab"}}}
]
}
],
"spacing": 3,
"bounds": "flush"
}
]
},
{
"hconcat": [
{"width": 42, "height": 2, "data": {"values": []}, "mark": "point"},
{
"width": 487, "height": 355,
"view": {"stroke": "black", "strokeWidth": 1},
"resolve": {"axis": {"x": "independent", "y": "independent"}},
"layer": [
{
"data": {"name": "f3"},
"mark": {"type": "line", "strokeWidth": 1, "interpolate": "monotone"},
"encoding": {
"x": {"field": "x", "type": "quantitative", "scale": {"domain": [0, 0.16], "nice": false}, "axis": {"values": [0,0.02,0.04,0.06,0.08,0.1,0.12,0.14,0.16], "labelExpr": "format(datum.value, '.2~f')", "title": "Distance from Critical Liquid fraction Δϕ", "titleFont": "Liberation Sans", "titleFontSize": 29, "titleFontWeight": "normal", "titleColor": "black", "titlePadding": 8, "labelFont": "Liberation Sans", "labelFontSize": 22, "labelColor": "black", "tickSize": -7, "tickColor": "black", "labelPadding": 19, "domain": false, "labelFlush": false, "labelOverlap": false}},
"y": {"field": "y", "type": "quantitative", "scale": {"domain": [0, 0.16], "nice": false}, "axis": {"values": [0,0.02,0.04,0.06,0.08,0.1,0.12,0.14,0.16], "labelExpr": "format(datum.value, '.2~f')", "title": "Fraction of System", "titleFont": "Liberation Sans", "titleFontSize": 29, "titleFontWeight": "normal", "titleColor": "black", "titlePadding": 30, "labelFont": "Liberation Sans", "labelFontSize": 22, "labelColor": "black", "tickSize": -7, "tickColor": "black", "labelPadding": 20, "domain": false, "labelFlush": false, "labelOverlap": false}},
"color": {"field": "k", "type": "nominal", "scale": {"domain": ["Inverse Decay Parameter (1/λ)", "Data Mean", "6.9 * Δϕ² -1.97 * Δϕ + 0.150"], "range": ["#9400d3", "#009e73", "#56b4e9"]}, "legend": {"title": null, "orient": "none", "legendX": 115, "legendY": 5, "labelFont": "Liberation Sans", "labelFontSize": 22, "labelColor": "black", "labelLimit": 600, "labelAlign": "right", "labelOffset": -57, "symbolOffset": 338, "strokeColor": "black", "fillColor": "white", "padding": 6, "symbolSize": 576, "symbolStrokeWidth": 1.2, "rowPadding": 0}}
}
},
{
"data": {"name": "p3"},
"mark": {"type": "point", "filled": false, "opacity": 1, "size": 576, "strokeWidth": 1.2},
"encoding": {
"x": {"field": "x", "type": "quantitative", "scale": {"domain": [0, 0.16], "nice": false}, "axis": {"orient": "top", "values": [0.02,0.04,0.06,0.08,0.1,0.12,0.14], "labels": false, "title": null, "tickSize": -7, "tickColor": "black", "domain": false}},
"y": {"field": "y", "type": "quantitative", "scale": {"domain": [0, 0.16], "nice": false}, "axis": {"orient": "right", "values": [0.02,0.04,0.06,0.08,0.1,0.12,0.14], "labels": false, "title": null, "tickSize": -7, "tickColor": "black", "domain": false}},
"color": {"field": "k", "type": "nominal", "legend": {"title": null, "orient": "none", "legendX": 115, "legendY": 5, "labelFont": "Liberation Sans", "labelFontSize": 22, "labelColor": "black", "labelLimit": 600, "labelAlign": "right", "labelOffset": -57, "symbolOffset": 338, "strokeColor": "black", "fillColor": "white", "padding": 6, "symbolSize": 576, "symbolStrokeWidth": 1.2, "rowPadding": 0}},
"shape": {"field": "k", "type": "nominal", "scale": {"domain": ["Inverse Decay Parameter (1/λ)", "Data Mean", "6.9 * Δϕ² -1.97 * Δϕ + 0.150"], "range": ["M-0.33,0L0.33,0M0,-0.33L0,0.33", "M-0.27,-0.27L0.27,0.27M-0.27,0.27L0.27,-0.27", "M-1,0L1,0"]}, "legend": {"title": null, "orient": "none", "legendX": 115, "legendY": 5, "labelFont": "Liberation Sans", "labelFontSize": 22, "labelColor": "black", "labelLimit": 600, "labelAlign": "right", "labelOffset": -57, "symbolOffset": 338, "strokeColor": "black", "fillColor": "white", "padding": 6, "symbolSize": 576, "symbolStrokeWidth": 1.2, "rowPadding": 0}}
}
}
]
}
],
"spacing": 0,
"bounds": "flush"
}
]
}
